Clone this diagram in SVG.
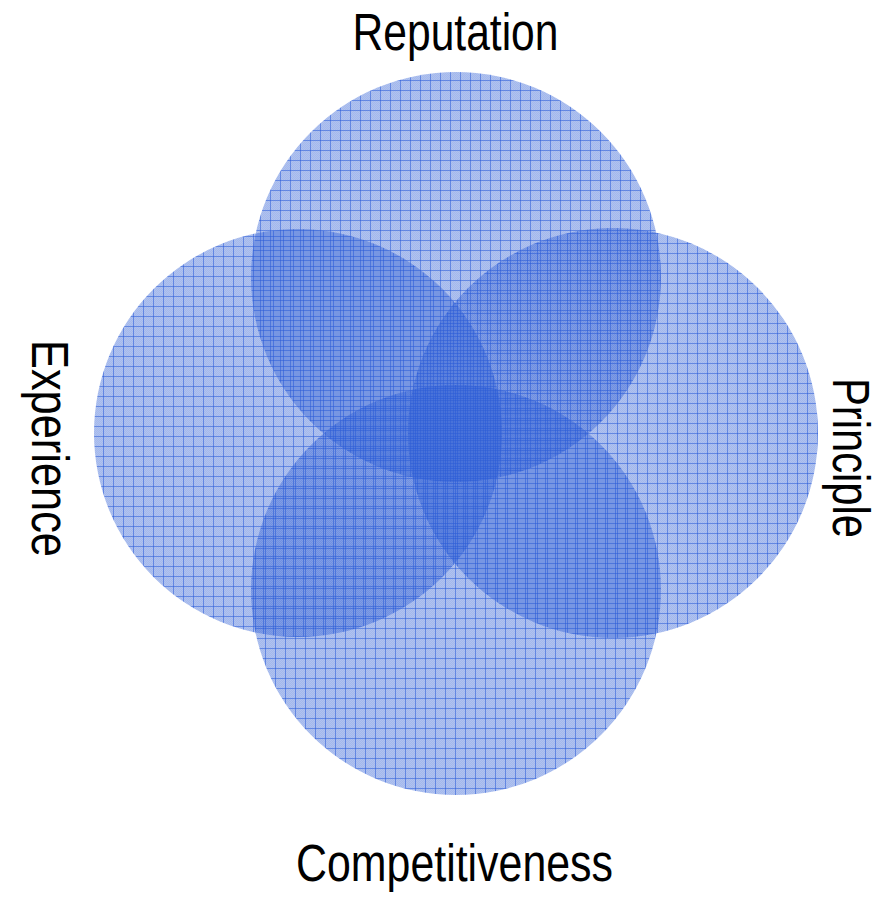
<svg xmlns="http://www.w3.org/2000/svg" width="884" height="897" viewBox="0 0 884 897">
  <style>
    .lbl { font-family: "Liberation Sans", Arial, sans-serif; font-size: 51px; fill: #000; }
  </style>
  <defs>
    <pattern id="fine" width="2" height="2" patternUnits="userSpaceOnUse">
      <rect width="2" height="2" fill="#2f5fd6" fill-opacity="0.38"/>
      <rect width="1" height="1" fill="#2f5fd6" fill-opacity="0.1"/>
      <rect x="1" y="1" width="1" height="1" fill="#2f5fd6" fill-opacity="0.1"/>
    </pattern>
    <pattern id="g1" width="10" height="10" patternUnits="userSpaceOnUse">
      <rect width="10" height="10" fill="url(#fine)"/>
      <path d="M0 0.5H10M0.5 0V10" stroke="#2a5ad8" stroke-opacity="0.55" stroke-width="1" fill="none"/>
    </pattern>
    <pattern id="g2" href="#g1" x="3" y="6"/>
    <pattern id="g3" href="#g1" x="7" y="3"/>
    <pattern id="g4" href="#g1" x="5" y="8"/>
  </defs>
  <g id="nodes">
    <g id="reputation">
      <circle cx="456" cy="277" r="205" fill="url(#g1)"/>
      <text class="lbl" x="455.5" y="50" text-anchor="middle" textLength="206" lengthAdjust="spacingAndGlyphs">Reputation</text>
    </g>
    <g id="experience">
      <circle cx="298" cy="433" r="204" fill="url(#g2)"/>
      <text class="lbl" transform="translate(32 448.5) rotate(90)" x="0" y="0" text-anchor="middle" textLength="217" lengthAdjust="spacingAndGlyphs">Experience</text>
    </g>
    <g id="principle">
      <circle cx="613" cy="433" r="205" fill="url(#g3)"/>
      <text class="lbl" transform="translate(833 458) rotate(90)" x="0" y="0" text-anchor="middle" textLength="160" lengthAdjust="spacingAndGlyphs">Principle</text>
    </g>
    <g id="competitiveness">
      <circle cx="456" cy="590" r="205" fill="url(#g4)"/>
      <text class="lbl" x="454.5" y="881" text-anchor="middle" textLength="317" lengthAdjust="spacingAndGlyphs">Competitiveness</text>
    </g>
  </g>
  <g id="connectors"/>
</svg>
